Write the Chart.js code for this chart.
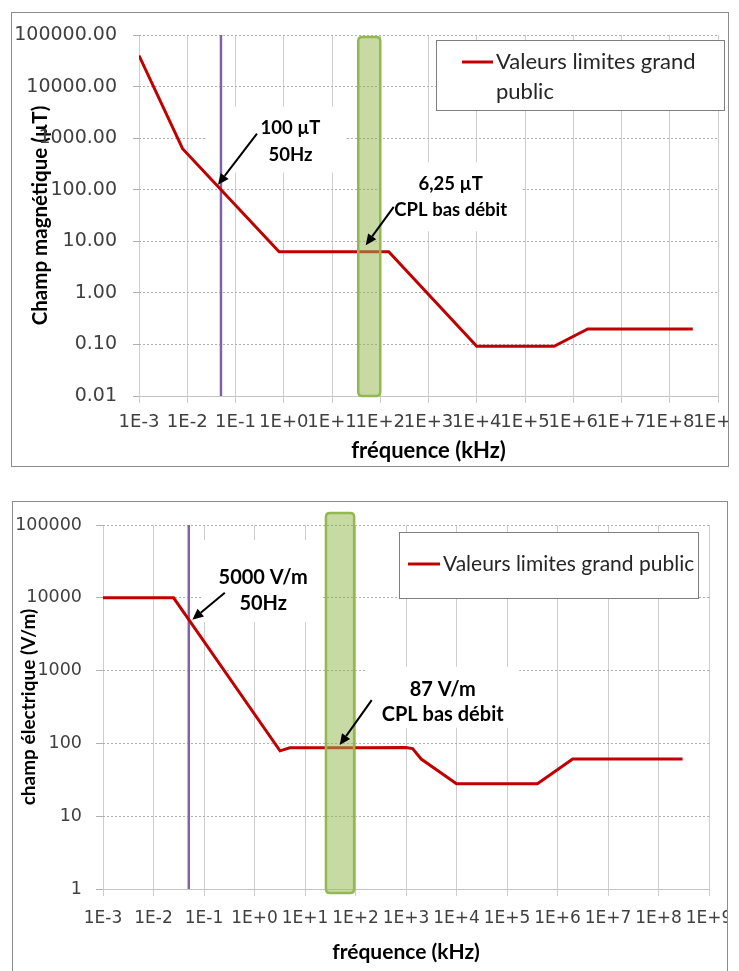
<!DOCTYPE html>
<html><head><meta charset="utf-8">
<script src="https://cdn.jsdelivr.net/npm/chart.js@4.4.0/dist/chart.umd.min.js"></script>
<style>
html,body{margin:0;padding:0;background:#fff;width:739px;height:971px;overflow:hidden;}
.box{position:absolute;border:1px solid #8c8c8c;background:#fff;}
#b1{left:11px;top:12px;width:716px;height:453px;}
#b2{left:12px;top:501px;width:714px;height:480px;}
canvas{display:block;}
</style></head><body>
<div class="box" id="b1"><canvas id="c1" width="716" height="453"></canvas></div>
<div class="box" id="b2"><canvas id="c2" width="714" height="469"></canvas></div>
<script>
// ---------- DATA ----------
const freqTicks = [1e-3,1e-2,1e-1,1e0,1e1,1e2,1e3,1e4,1e5,1e6,1e7,1e8,1e9];
const freqTickLabels = ['1E-3','1E-2','1E-1','1E+0','1E+1','1E+2','1E+3','1E+4','1E+5','1E+6','1E+7','1E+8','1E+9'];

// Champ magnétique (µT) vs fréquence (kHz)
const magFreq   = [0.001, 0.008, 0.8, 150, 10000, 400000, 2000000, 300000000];
const magValues = [40000, 625, 6.25, 6.25, 0.092, 0.092, 0.2, 0.2];
const magTicks = [0.01, 0.1, 1, 10, 100, 1000, 10000, 100000];
const magTickLabels = ['0.01','0.10','1.00','10.00','100.00','1000.00','10000.00','100000.00'];

// Champ électrique (V/m) vs fréquence (kHz)
const elecFreq   = [0.001, 0.025, 0.05, 3.2, 5, 150, 1000, 1350, 2000, 10000, 400000, 2000000, 300000000];
const elecValues = [10000, 10000, 5000, 79, 87, 87, 88, 85, 61, 28, 28, 61, 61];
const elecTicks = [1, 10, 100, 1000, 10000, 100000];
const elecTickLabels = ['1','10','100','1000','10000','100000'];

const seriesLabel = 'Valeurs limites grand public';
const mainsFreq = 0.05;            // 50 Hz in kHz
const cplBandMag  = [35, 100];     // CPL bas débit band (kHz)
const cplBandElec = [26, 94];

const magNotePoints  = [[0.05, 100], [50, 6.25]];
const magNoteTexts   = [['100 µT', '50Hz'], ['6,25 µT', 'CPL bas débit']];
const elecNotePoints = [[0.05, 5000], [50, 87]];
const elecNoteTexts  = [['5000 V/m', '50Hz'], ['87 V/m', 'CPL bas débit']];

// ---------- STYLE ----------
const RED = '#c00000', PURPLE = '#8064a2';

function drawArrow(ctx, x1, y1, x2, y2) {
  const ang = Math.atan2(y2 - y1, x2 - x1), L = 11, W = 5;
  const bx = x2 - L * Math.cos(ang), by = y2 - L * Math.sin(ang);
  ctx.save();
  ctx.strokeStyle = '#000'; ctx.fillStyle = '#000'; ctx.lineWidth = 2;
  ctx.beginPath(); ctx.moveTo(x1, y1); ctx.lineTo(bx, by); ctx.stroke();
  ctx.beginPath();
  ctx.moveTo(x2, y2);
  ctx.lineTo(bx + W * Math.sin(ang), by - W * Math.cos(ang));
  ctx.lineTo(bx - W * Math.sin(ang), by + W * Math.cos(ang));
  ctx.closePath(); ctx.fill();
  ctx.restore();
}

function roundRect(ctx, x, y, w, h, r) {
  ctx.beginPath();
  ctx.moveTo(x + r, y); ctx.lineTo(x + w - r, y); ctx.quadraticCurveTo(x + w, y, x + w, y + r);
  ctx.lineTo(x + w, y + h - r); ctx.quadraticCurveTo(x + w, y + h, x + w - r, y + h);
  ctx.lineTo(x + r, y + h); ctx.quadraticCurveTo(x, y + h, x, y + h - r);
  ctx.lineTo(x, y + r); ctx.quadraticCurveTo(x, y, x + r, y);
  ctx.closePath();
}

function decorPlugin(cfg) {
  return {
    id: 'decor',
    beforeDatasetsDraw(chart) {
      const { ctx, scales: { x, y } } = chart;
      cfg.points.forEach((p, i) => {
        const st = cfg.noteStyle[i];
        const px = x.getPixelForValue(p[0]), py = y.getPixelForValue(p[1]);
        ctx.save(); ctx.fillStyle = '#fff';
        ctx.fillRect(px + st.box[0], py + st.box[1], st.box[2], st.box[3]);
        ctx.restore();
      });
    },
    afterDatasetsDraw(chart) {
      const { ctx, chartArea: ca, scales: { x, y } } = chart;
      // CPL band
      const bx1 = x.getPixelForValue(cfg.band[0]), bx2 = x.getPixelForValue(cfg.band[1]);
      const by1 = ca.top + cfg.bandY[0], by2 = ca.bottom + cfg.bandY[1];
      ctx.save();
      roundRect(ctx, bx1, by1, bx2 - bx1, by2 - by1, 4);
      ctx.fillStyle = 'rgba(150,185,80,0.52)'; ctx.fill();
      ctx.strokeStyle = '#92b950'; ctx.lineWidth = 2.5; ctx.stroke();
      ctx.restore();
      // notes
      cfg.points.forEach((p, i) => {
        const st = cfg.noteStyle[i];
        const px = x.getPixelForValue(p[0]), py = y.getPixelForValue(p[1]);
        drawArrow(ctx, px + st.tail[0], py + st.tail[1], px + st.head[0], py + st.head[1]);
        ctx.save();
        ctx.fillStyle = '#000'; ctx.font = cfg.noteFont;
        ctx.textAlign = 'center'; ctx.textBaseline = 'middle';
        const lines = cfg.texts[i];
        lines.forEach((t, k) => {
          ctx.fillText(t, px + st.text[0], py + st.text[1] + (k - (lines.length - 1) / 2) * st.gap);
        });
        ctx.restore();
      });
      // legend
      const lg = cfg.legend;
      const lx = ca.right + lg.box[0], ly = ca.top + lg.box[1];
      ctx.save();
      ctx.fillStyle = '#fff'; ctx.fillRect(lx, ly, lg.box[2], lg.box[3]);
      ctx.strokeStyle = '#7f7f7f'; ctx.lineWidth = 1;
      ctx.strokeRect(Math.round(lx) + 0.5, Math.round(ly) + 0.5, lg.box[2], lg.box[3]);
      ctx.strokeStyle = RED; ctx.lineWidth = 3;
      ctx.beginPath(); ctx.moveTo(lx + lg.line[0], ly + lg.line[2]); ctx.lineTo(lx + lg.line[1], ly + lg.line[2]); ctx.stroke();
      ctx.fillStyle = '#262626'; ctx.font = lg.font; ctx.textAlign = 'left'; ctx.textBaseline = 'middle';
      lg.lines.forEach((t, k) => ctx.fillText(t, lx + lg.textX, ly + lg.line[2] + k * lg.gap));
      ctx.restore();
    }
  };
}

function xScaleCfg(o) {
  return {
    type: 'logarithmic', position: 'bottom',
    min: freqTicks[0], max: freqTicks[freqTicks.length - 1],
    afterBuildTicks: s => { s.ticks = freqTicks.map(v => ({ value: v })); },
    afterFit: s => { s.height = o.height; s.paddingLeft = 0; s.paddingRight = 0; },
    ticks: { autoSkip: false, maxRotation: 0, minRotation: 0, padding: o.tickPad, color: '#404040',
             font: { family: 'DejaVu Sans', size: o.tickSize }, callback: (v, i) => freqTickLabels[i] },
    grid: { color: '#cdcdcd', lineWidth: 1, tickLength: 7 },
    border: { display: true, color: '#c4c4c4', width: 1 },
    title: { display: true, text: 'fréquence (kHz)', color: '#000',
             font: { family: 'Lato', weight: 'bold', size: o.titleSize }, padding: { top: 0, bottom: o.titlePad } }
  };
}
function yScaleCfg(o) {
  return {
    type: 'logarithmic', position: 'left',
    min: o.ticksArr[0], max: o.ticksArr[o.ticksArr.length - 1],
    afterBuildTicks: s => { s.ticks = o.ticksArr.map(v => ({ value: v })); },
    afterFit: s => { s.width = o.width; s.paddingTop = 0; s.paddingBottom = 0; },
    ticks: { autoSkip: false, padding: o.tickPad, color: '#404040',
             font: { family: 'DejaVu Sans', size: o.tickSize }, callback: (v, i) => o.labels[i] },
    grid: { color: '#b0b0b0', lineWidth: 1, tickLength: o.tickLen },
    border: { display: false, dash: [2, 2] },
    title: { display: true, text: o.title, color: '#000',
             font: { family: 'Lato', weight: 'bold', size: o.titleSize }, padding: { top: o.titlePad, bottom: 0 } }
  };
}

function makeChart(id, o) {
  return new Chart(document.getElementById(id), {
    type: 'line',
    data: {
      datasets: [
        { label: seriesLabel, data: o.xs.map((f, i) => ({ x: f, y: o.ys[i] })),
          borderColor: RED, backgroundColor: RED, borderWidth: 3, pointRadius: 0, tension: 0 },
        { label: '50 Hz', data: [{ x: mainsFreq, y: o.yTicks[0] }, { x: mainsFreq, y: o.yTicks[o.yTicks.length - 1] }],
          borderColor: PURPLE, borderWidth: 2.5, pointRadius: 0 }
      ]
    },
    options: {
      responsive: false, animation: false, events: [],
      layout: { padding: o.padding },
      plugins: { legend: { display: false }, tooltip: { enabled: false } },
      scales: { x: xScaleCfg(o.x), y: yScaleCfg(o.y) }
    },
    plugins: [decorPlugin(o.decor)]
  });
}

makeChart('c1', {
  xs: magFreq, ys: magValues, yTicks: magTicks,
  padding: { top: 22, right: 10, left: 0, bottom: 0 },
  x: { height: 70, tickPad: 9, tickSize: 18, titleSize: 22, titlePad: 2 },
  y: { ticksArr: magTicks, labels: magTickLabels, width: 127, tickPad: 16, tickLen: 6, tickSize: 19,
       title: 'Champ magnétique (µT)', titleSize: 20.5, titlePad: 16 },
  decor: {
    band: cplBandMag, bandY: [2, 0],
    points: magNotePoints, texts: magNoteTexts,
    noteFont: 'bold 18.5px Lato',
    noteStyle: [
      { text: [69.5, -48.5], gap: 27, box: [-14, -83, 138, 66], tail: [36, -56], head: [-3, -5] },
      { text: [85, -54.5], gap: 26, box: [15, -89.5, 142, 69], tail: [28, -45], head: [0, -6.5] }
    ],
    legend: { box: [-282, 5, 288, 70], line: [26, 57, 22], textX: 60, gap: 30,
              font: '22px Lato', lines: ['Valeurs limites grand', 'public'] }
  }
});

makeChart('c2', {
  xs: elecFreq, ys: elecValues, yTicks: elecTicks,
  padding: { top: 23, right: 18, left: 0, bottom: 0 },
  x: { height: 82, tickPad: 12, tickSize: 17, titleSize: 21, titlePad: 6 },
  y: { ticksArr: elecTicks, labels: elecTickLabels, width: 90, tickPad: 14, tickLen: 7, tickSize: 17.5,
       title: 'champ électrique (V/m)', titleSize: 19, titlePad: 4 },
  decor: {
    band: cplBandElec, bandY: [-12, 4],
    points: elecNotePoints, texts: elecNoteTexts,
    noteFont: 'bold 20px Lato',
    noteStyle: [
      { text: [74.4, -29.6], gap: 26, box: [14, -79.6, 119, 82], tail: [36, -27], head: [3.5, 0] },
      { text: [102.4, -46.2], gap: 25, box: [25, -81, 154, 61], tail: [31.4, -47.7], head: [-0.6, -2.7] }
    ],
    legend: { box: [-310, 7, 299, 66], line: [9, 41, 32], textX: 44, gap: 0,
              font: '21px Lato', lines: [seriesLabel] }
  }
});
</script>
</body></html>
